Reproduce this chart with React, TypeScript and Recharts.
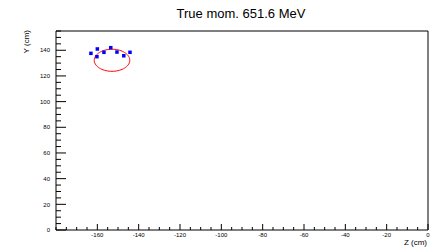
import { ReferenceLine, Scatter, ScatterChart, XAxis, YAxis } from "recharts";

const TITLE = "True mom. 651.6 MeV";
const X_TITLE = "Z (cm)";
const Y_TITLE = "Y (cm)";

// reconstructed hits (blue squares)
const HIT_Z = [-163.1, -160.0, -160.2, -156.8, -153.5, -150.5, -147.2, -144.2];
const HIT_Y = [137.6, 141.0, 135.0, 138.4, 142.0, 138.6, 135.7, 138.4];

// fitted ring (red)
const RING_CENTER_Z = -152.9;
const RING_CENTER_Y = 132.2;
const RING_RADIUS = 8.6;
const RING_STEPS = 72;

const X_DOMAIN: [number, number] = [-180, 0];
const Y_DOMAIN: [number, number] = [0, 155];
const X_MAJOR = [-160, -140, -120, -100, -80, -60, -40, -20, 0];
const Y_MAJOR = [0, 20, 40, 60, 80, 100, 120, 140];
const MINOR_STEP = 5;

const FONT = "'Liberation Sans', Arial, Helvetica, sans-serif";

const hits = HIT_Z.map((z, i) => ({ z, y: HIT_Y[i] }));

const ring: { z: number; y: number }[] = [];
for (let i = 0; i <= RING_STEPS; i++) {
  const a = (i / RING_STEPS) * Math.PI * 2;
  ring.push({
    z: RING_CENTER_Z + RING_RADIUS * Math.cos(a),
    y: RING_CENTER_Y + RING_RADIUS * Math.sin(a),
  });
}

function minorTicks([lo, hi]: [number, number]) {
  const out: number[] = [];
  for (let v = Math.ceil(lo / MINOR_STEP) * MINOR_STEP; v <= hi; v += MINOR_STEP) out.push(v);
  return out;
}

const xTicks = minorTicks(X_DOMAIN);
const yTicks = minorTicks(Y_DOMAIN);

function XTick(props: any) {
  const { x, payload } = props;
  const major = X_MAJOR.includes(payload.value);
  return (
    <g>
      <line x1={x} x2={x} y1={230} y2={230 - (major ? 6 : 3)} stroke="#000" />
      {major && (
        <text x={x} y={237.3} textAnchor="middle" fontSize={6} fontFamily={FONT} fill="#000">
          {payload.value}
        </text>
      )}
    </g>
  );
}

function YTick(props: any) {
  const { x, y, payload } = props;
  const major = Y_MAJOR.includes(payload.value);
  return (
    <g>
      <line x1={x} x2={x + (major ? 10 : 5)} y1={y} y2={y} stroke="#000" />
      {major && (
        <text x={x - 6} y={y + 2.2} textAnchor="end" fontSize={6} fontFamily={FONT} fill="#000">
          {payload.value}
        </text>
      )}
    </g>
  );
}

const Square = (props: any) => (
  <rect x={props.cx - 1.75} y={props.cy - 1.75} width={3.5} height={3.5} fill="#0000ff" />
);
const NoDot = () => <g />;

export default function App() {
  return (
    <div style={{ position: "absolute", left: 0, top: 0, width: 444, height: 252, background: "#fff" }}>
      <ScatterChart width={444} height={252} margin={{ top: 31, right: 16, bottom: 0, left: 16 }}>
        <XAxis
          type="number"
          dataKey="z"
          domain={X_DOMAIN}
          ticks={xTicks}
          interval={0}
          allowDataOverflow
          tickSize={0}
          tickMargin={0}
          tick={XTick}
          height={22}
          axisLine={{ stroke: "#000" }}
        />
        <YAxis
          type="number"
          dataKey="y"
          domain={Y_DOMAIN}
          ticks={yTicks}
          interval={0}
          allowDataOverflow
          tickSize={0}
          tickMargin={0}
          tick={YTick}
          width={40}
          axisLine={{ stroke: "#000" }}
        />
        <ReferenceLine y={Y_DOMAIN[1]} stroke="#000" />
        <ReferenceLine x={X_DOMAIN[1]} stroke="#000" />
        <Scatter
          data={ring}
          shape={NoDot}
          line={{ stroke: "#ff0000", strokeWidth: 1 }}
          lineType="joint"
          isAnimationActive={false}
        />
        <Scatter data={hits} shape={Square} isAnimationActive={false} />
      </ScatterChart>
      <div
        style={{
          position: "absolute",
          left: 0,
          width: 482,
          top: 6,
          textAlign: "center",
          fontFamily: FONT,
          fontSize: 13,
          lineHeight: "16px",
          color: "#000",
        }}
      >
        {TITLE}
      </div>
      <div
        style={{
          position: "absolute",
          right: 17,
          top: 237.5,
          fontFamily: FONT,
          fontSize: 8,
          lineHeight: "10px",
          color: "#000",
        }}
      >
        {X_TITLE}
      </div>
      <div
        style={{
          position: "absolute",
          left: 22,
          top: 30,
          fontFamily: FONT,
          fontSize: 8,
          lineHeight: "10px",
          color: "#000",
          whiteSpace: "nowrap",
          transformOrigin: "0 0",
          transform: "rotate(-90deg) translate(-100%, 0)",
        }}
      >
        {Y_TITLE}
      </div>
    </div>
  );
}
